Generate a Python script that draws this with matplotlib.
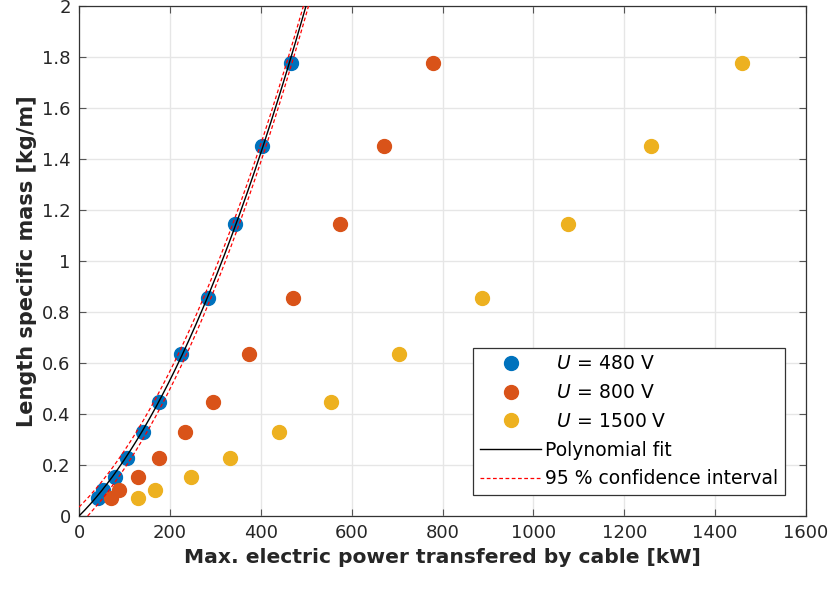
import matplotlib
matplotlib.use('Agg')
import matplotlib.pyplot as plt
from matplotlib.ticker import FormatStrFormatter
import numpy as np

# Length specific mass of each cable size [kg/m]
mass = [1.776, 1.451, 1.145, 0.853, 0.633, 0.448, 0.331, 0.229, 0.154, 0.100, 0.072]

# Max. transferable power per voltage level [kW]
power_480 = [466, 402, 344, 283, 224, 176, 140, 106, 79, 53, 42]
power_800 = [778, 671, 574, 472, 375, 295, 234, 176, 130, 89, 70]
power_1500 = [1459, 1259, 1077, 887, 705, 554, 440, 332, 246, 168, 130]

ci_half = 0.035  # half width of the 95 % band [kg/m]

blue = '#0072BD'
orange = '#D95319'
yellow = '#EDB120'

plt.rcParams['font.family'] = ['DejaVu Sans']
plt.rcParams['mathtext.fontset'] = 'dejavusans'

fig = plt.figure(figsize=(8.3, 5.92), dpi=100)
ax = fig.add_axes([0.0952, 0.1284, 0.8759, 0.8623])

ax.plot(power_480, mass, 'o', color=blue, ms=10, label=r'  $U$ = 480 V', zorder=3)
ax.plot(power_800, mass, 'o', color=orange, ms=10, label=r'  $U$ = 800 V', zorder=3)
ax.plot(power_1500, mass, 'o', color=yellow, ms=10, label=r'  $U$ = 1500 V', zorder=3)

# quadratic fit of the 480 V series, forced through the origin
p = np.array(power_480, dtype=float)
A = np.column_stack([p ** 2, p])
a, b = np.linalg.lstsq(A, np.array(mass), rcond=None)[0]
xs = np.linspace(0, 520, 300)
ys = a * xs ** 2 + b * xs
ax.plot(xs, ys, color='black', lw=1.0, label='Polynomial fit', zorder=4)
ax.plot(xs, ys + ci_half, '--', color='#FF0000', lw=0.9, dashes=(3, 2),
        label='95 % confidence interval', zorder=4)
ax.plot(xs, ys - ci_half, '--', color='#FF0000', lw=0.9, dashes=(3, 2), zorder=4)

ax.set_xlim(0, 1600)
ax.set_ylim(0, 2)
ax.set_xticks(np.arange(0, 1601, 200))
ax.set_yticks(np.arange(0, 2.01, 0.2))
ax.yaxis.set_major_formatter(FormatStrFormatter('%g'))
ax.grid(True, color='#e6e6e6', lw=1.0)
ax.set_axisbelow(True)
ax.tick_params(direction='in', top=True, right=True, length=5, width=0.8,
               color='#555555', labelsize=13, labelcolor='#262626', pad=6)
for sp in ax.spines.values():
    sp.set_color('#333333')
    sp.set_linewidth(0.9)

ax.set_xlabel('Max. electric power transfered by cable [kW]', fontsize=14.6,
              fontweight='bold', color='#262626')
ax.set_ylabel('Length specific mass [kg/m]', fontsize=15, fontweight='bold',
              color='#262626')

leg = ax.legend(loc='lower right', bbox_to_anchor=(0.971, 0.041), fontsize=13.5,
                frameon=True, fancybox=False, edgecolor='#333333', framealpha=1,
                borderpad=0.35, labelspacing=0.52, handlelength=3.3,
                handletextpad=0.2, borderaxespad=0)
leg.get_frame().set_linewidth(0.9)

fig.savefig('out.png', dpi=100)
